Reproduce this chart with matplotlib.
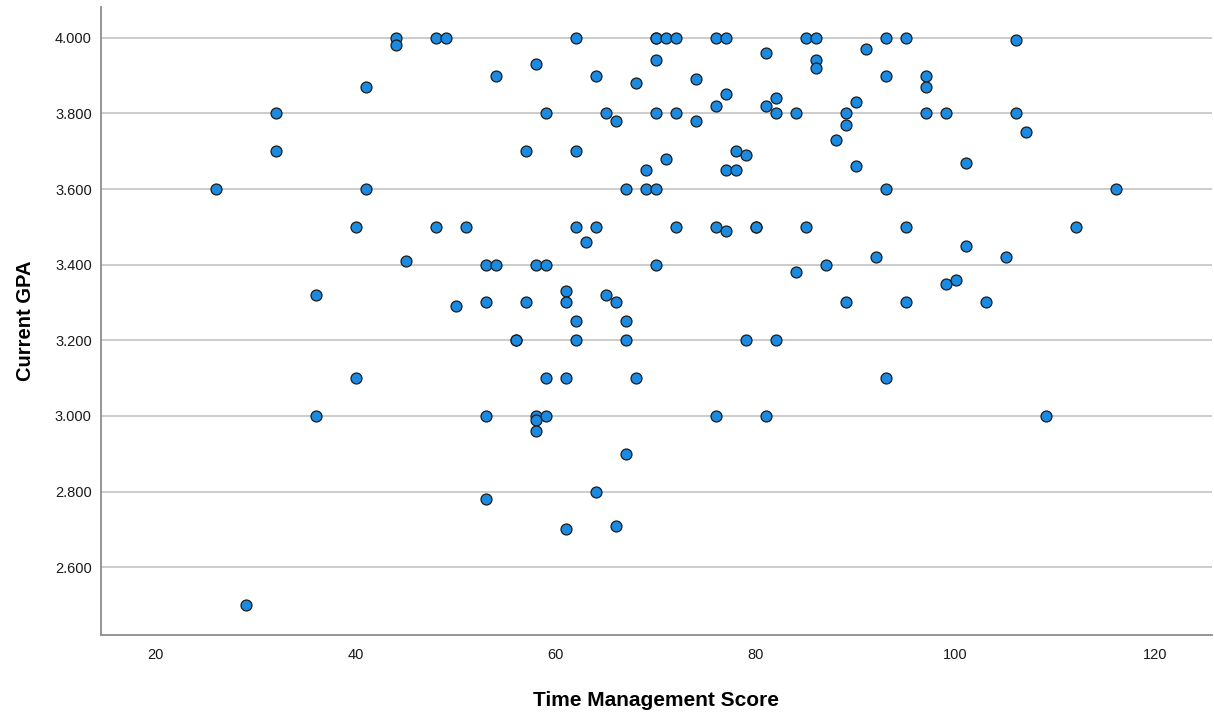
import matplotlib
matplotlib.use("Agg")
import matplotlib.pyplot as plt
from matplotlib.ticker import FormatStrFormatter

plt.rcParams['font.family'] = ['Liberation Sans', 'DejaVu Sans']

# Time Management Score vs Current GPA
tm_score = [26, 29, 32, 32, 36, 36, 40, 40, 41, 41, 44, 44, 45, 48, 49, 48, 50, 51,
            53, 53, 53, 53, 54, 54, 56, 56, 57, 57, 58, 58, 58, 58, 58,
            59, 59, 59, 59, 61, 61, 61, 61, 62, 62, 62, 62, 62, 63,
            64, 64, 64, 65, 65, 66, 66, 66, 67, 67, 67, 67, 68, 68, 69, 69,
            70, 70, 70, 70, 70, 70, 71, 71, 72, 72, 72, 74, 74,
            76, 76, 76, 76, 77, 77, 77, 77, 78, 78, 79, 79, 80, 80,
            81, 81, 81, 82, 82, 82, 84, 84, 85, 85, 86, 86, 86, 87, 88,
            89, 89, 89, 90, 90, 91, 92, 93, 93, 93, 93, 95, 95, 95,
            97, 97, 97, 99, 99, 100, 101, 101, 103, 105, 106, 106, 107,
            109, 112, 116]
gpa = [3.60, 2.50, 3.80, 3.70, 3.32, 3.00, 3.50, 3.10, 3.87, 3.60, 4.00, 3.98, 3.41, 4.00, 4.00, 3.50, 3.29, 3.50,
       3.40, 3.30, 3.00, 2.78, 3.90, 3.40, 3.20, 3.20, 3.70, 3.30, 3.93, 3.40, 3.00, 2.99, 2.96,
       3.80, 3.40, 3.10, 3.00, 3.33, 3.30, 3.10, 2.70, 4.00, 3.70, 3.50, 3.25, 3.20, 3.46,
       3.90, 3.50, 2.80, 3.80, 3.32, 3.78, 3.30, 2.71, 3.60, 3.25, 3.20, 2.90, 3.88, 3.10, 3.65, 3.60,
       4.00, 4.00, 3.94, 3.80, 3.60, 3.40, 4.00, 3.68, 4.00, 3.80, 3.50, 3.89, 3.78,
       4.00, 3.82, 3.50, 3.00, 4.00, 3.85, 3.65, 3.49, 3.70, 3.65, 3.69, 3.20, 3.50, 3.50,
       3.96, 3.82, 3.00, 3.84, 3.80, 3.20, 3.80, 3.38, 4.00, 3.50, 4.00, 3.94, 3.92, 3.40, 3.73,
       3.80, 3.77, 3.30, 3.83, 3.66, 3.97, 3.42, 4.00, 3.90, 3.60, 3.10, 4.00, 3.50, 3.30,
       3.90, 3.87, 3.80, 3.80, 3.35, 3.36, 3.67, 3.45, 3.30, 3.42, 3.995, 3.80, 3.75,
       3.00, 3.50, 3.60]

fig = plt.figure(figsize=(12.14, 7.13), dpi=100)
ax = fig.add_axes([0.083, 0.109, 0.915, 0.881])

ax.scatter(tm_score, gpa, s=62, color='#1a8be0', edgecolors='#1b1b1b', linewidths=0.9, zorder=3)

ax.set_xlim(14.5, 125.6)
ax.set_ylim(2.42, 4.081)
ax.set_xticks([20, 40, 60, 80, 100, 120])
ax.set_yticks([2.6, 2.8, 3.0, 3.2, 3.4, 3.6, 3.8, 4.0])
ax.yaxis.set_major_formatter(FormatStrFormatter('%.3f'))

ax.grid(axis='y', color='#c4c4c4', linewidth=1.2)
ax.set_axisbelow(True)
for side in ['top', 'right']:
    ax.spines[side].set_visible(False)
for side in ['left', 'bottom']:
    ax.spines[side].set_color('#8c8c8c')
    ax.spines[side].set_linewidth(1.3)

ax.tick_params(axis='both', length=0, labelsize=10.5, colors='#1a1a1a')
ax.tick_params(axis='x', pad=9)
ax.tick_params(axis='y', pad=6.5)

ax.set_xlabel('Time Management Score', fontsize=15, fontweight='bold', labelpad=21)
ax.set_ylabel('Current GPA', fontsize=14.5, fontweight='bold', labelpad=14)

fig.savefig('out.png', dpi=100)
